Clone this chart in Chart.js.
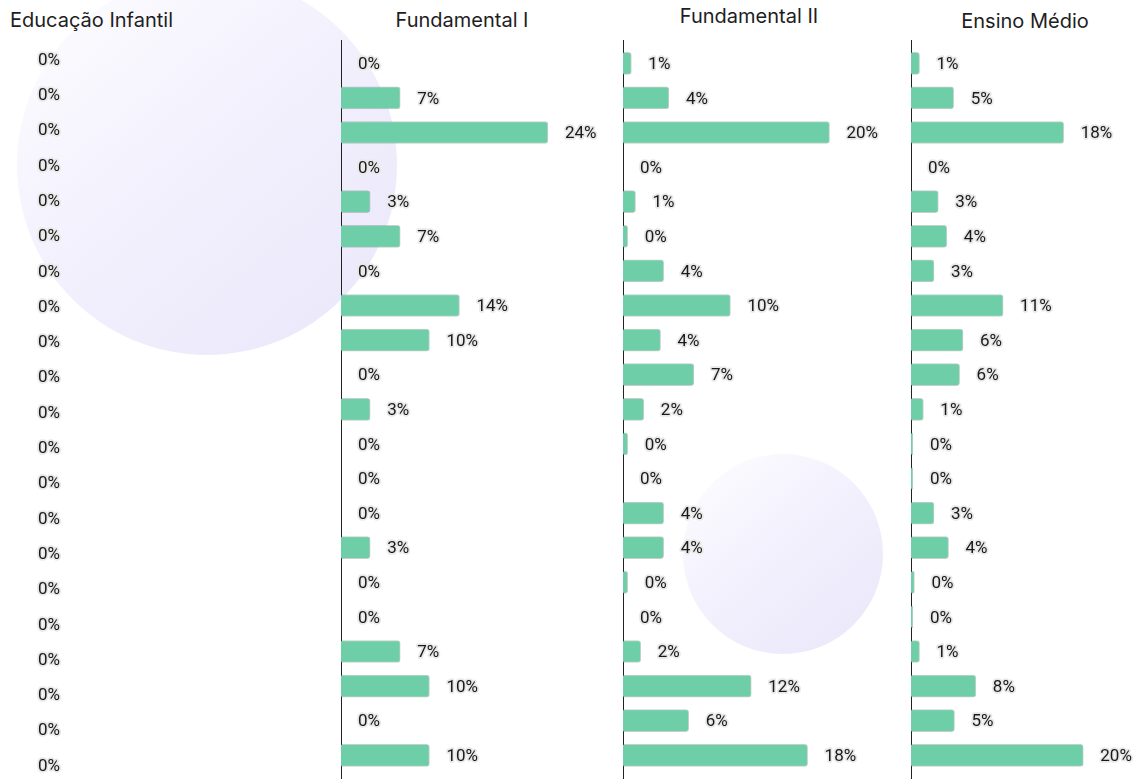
<!DOCTYPE html>
<html>
<head>
<meta charset="utf-8">
<script src="https://cdn.jsdelivr.net/npm/chart.js@4.4.1/dist/chart.umd.min.js"></script>
<style>
  html, body { margin:0; padding:0; width:1135px; height:779px; overflow:hidden; background:#fff; }
  .blob { position:absolute; border-radius:50%; background:linear-gradient(140deg, #fefeff 0%, #f3f1fd 45%, #e9e6fa 100%); }
  .ttl { position:absolute; font-family:Inter, "Open Sans", sans-serif; font-size:20px; letter-spacing:0; color:#1e1e1e; white-space:nowrap; line-height:1; }
  canvas { position:absolute; top:0; }
</style>
</head>
<body>
<div class="blob" style="left:17px; top:-25px; width:380px; height:380px;"></div>
<div class="blob" style="left:683px; top:454px; width:200px; height:200px;"></div>

<div class="ttl" style="left:10px; top:10px;">Educação Infantil</div>
<div class="ttl" style="left:462px; top:10px; transform:translateX(-50%);">Fundamental I</div>
<div class="ttl" style="left:749px; top:6px; transform:translateX(-50%);">Fundamental II</div>
<div class="ttl" style="left:1025px; top:11px; transform:translateX(-50%);">Ensino Médio</div>

<canvas id="cInfantil"></canvas>
<canvas id="cFund1"></canvas>
<canvas id="cFund2"></canvas>
<canvas id="cMedio"></canvas>

<script>
// ============= DATA =============
const ROWS = ['1','2','3','4','5','6','7','8','9','10','11','12','13','14','15','16','17','18','19','20','21'];

const INFANTIL = [0,0,0,0,0,0,0,0,0,0,0,0,0,0,0,0,0,0,0,0,0];
const FUND_I   = [0, 6.9, 24.1, 0, 3.4, 6.9, 0, 13.8, 10.3, 0, 3.4, 0, 0, 0, 3.4, 0, 0, 6.9, 10.3, 0, 10.3];
const FUND_II  = [0.8, 4.4, 19.8, 0, 1.2, 0.45, 3.9, 10.3, 3.6, 6.8, 2.0, 0.45, 0, 3.9, 3.9, 0.45, 0, 1.7, 12.3, 6.3, 17.7];
const MEDIO    = [1.0, 5.0, 17.9, 0, 3.2, 4.2, 2.7, 10.8, 6.1, 5.7, 1.45, 0.23, 0.23, 2.7, 4.4, 0.4, 0.23, 1.0, 7.6, 5.1, 20.2];

const BAR_COLOR = '#6ecea8';

// ============= PLUGINS =============
const axisLine = {
  id: 'axisLine',
  beforeDatasetsDraw(chart, args, opts) {
    if (!opts.show) return;
    const ctx = chart.ctx;
    const x = Math.round(chart.chartArea.left) + 0.5;
    ctx.save();
    ctx.strokeStyle = '#222';
    ctx.lineWidth = 1;
    ctx.beginPath();
    ctx.moveTo(x, opts.from);
    ctx.lineTo(x, chart.height);
    ctx.stroke();
    ctx.restore();
  }
};

const valueLabels = {
  id: 'valueLabels',
  afterDatasetsDraw(chart) {
    const ctx = chart.ctx;
    const meta = chart.getDatasetMeta(0);
    const data = chart.data.datasets[0].data;
    const xs = chart.scales.x;
    ctx.save();
    ctx.font = '17px Roboto';
    ctx.textBaseline = 'middle';
    ctx.textAlign = 'left';
    ctx.lineJoin = 'round';
    meta.data.forEach((bar, i) => {
      const v = data[i];
      const txt = Math.round(v) + '%';
      const x = xs.getPixelForValue(v) + 17;
      const y = bar.y + 1.5;
      ctx.strokeStyle = '#e8e8e8';
      ctx.lineWidth = 3.5;
      ctx.strokeText(txt, x, y);
      ctx.fillStyle = '#1a1a1a';
      ctx.fillText(txt, x, y);
    });
    ctx.restore();
  }
};

// ============= PANELS =============
function makePanel(id, values, p) {
  const canvas = document.getElementById(id);
  const areaH = ROWS.length * p.spacing;
  canvas.width = p.width + 2;
  canvas.height = p.height;
  canvas.style.left = (p.axisX - 2) + 'px';
  return new Chart(canvas, {
    type: 'bar',
    data: {
      labels: ROWS,
      datasets: [{
        data: values,
        backgroundColor: BAR_COLOR,
        borderColor: 'rgba(90,120,110,0.35)',
        borderWidth: 1,
        borderSkipped: 'start',
        borderRadius: 3,
        barThickness: 22
      }]
    },
    options: {
      indexAxis: 'y',
      responsive: false,
      animation: false,
      layout: { padding: { top: p.top, left: 2, right: 0, bottom: p.height - p.top - areaH } },
      plugins: {
        legend: { display: false },
        tooltip: { enabled: false },
        axisLine: { show: p.showAxis, from: 40 }
      },
      scales: {
        x: { display: false, min: 0, max: p.max },
        y: { display: false }
      }
    },
    plugins: [axisLine, valueLabels]
  });
}

function renderAll() {
  makePanel('cInfantil', INFANTIL, { axisX: 21, width: 290, top: 41.3, spacing: 35.3, height: 783, max: 30, showAxis: false });
  makePanel('cFund1', FUND_I,     { axisX: 341, width: 279, top: 46, spacing: 34.6, height: 780, max: 32.5, showAxis: true });
  makePanel('cFund2', FUND_II,    { axisX: 623, width: 282, top: 46, spacing: 34.6, height: 780, max: 27.04, showAxis: true });
  makePanel('cMedio', MEDIO,      { axisX: 911, width: 224, top: 46, spacing: 34.6, height: 780, max: 26.26, showAxis: true });
}

if (document.fonts && document.fonts.load) {
  document.fonts.load('17px Roboto').then(renderAll, renderAll);
} else {
  renderAll();
}
</script>
</body>
</html>
